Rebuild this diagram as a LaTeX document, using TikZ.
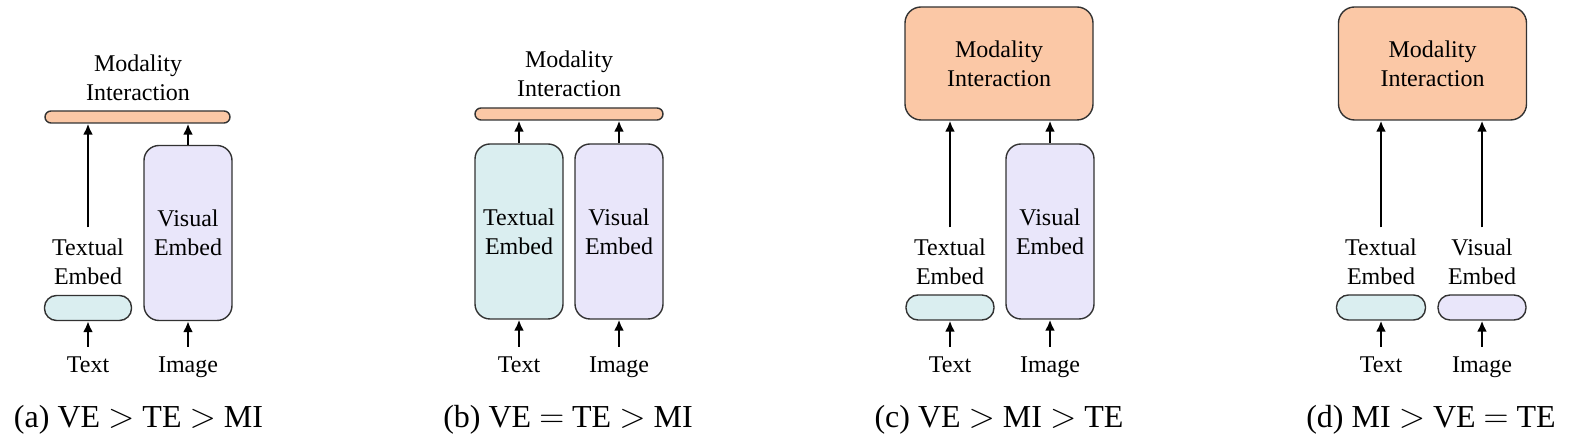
\documentclass[tikz,border=0pt]{standalone}
\usepackage{fontspec}
\setmainfont{Liberation Serif}
\usetikzlibrary{arrows.meta}
\definecolor{mipeach}{RGB}{251,200,166}
\definecolor{tecyan}{RGB}{218,238,240}
\definecolor{velilac}{RGB}{233,230,250}
\definecolor{edgegray}{RGB}{50,50,50}
\tikzset{
  modfig/.style={x=0.5pt,y=-0.5pt,font=\fontsize{12}{14.5}\selectfont},
  blk/.style={draw=edgegray,line width=0.7pt,inner sep=0pt,align=center},
  mibar/.style={blk,fill=mipeach,rounded corners=3pt,minimum height=6pt},
  mibox/.style={blk,fill=mipeach,rounded corners=8pt,minimum width=94pt,minimum height=56.5pt},
  tallbox/.style={blk,rounded corners=7.5pt,minimum width=44pt,minimum height=87.5pt},
  flatbox/.style={blk,rounded corners=6pt,minimum width=44pt,minimum height=12.5pt},
  lbl/.style={align=center,inner sep=0pt},
  flow/.style={-{Latex[length=5.5pt,width=5pt]},line width=1.1pt},
  subcap/.style={font=\fontsize{16}{19}\selectfont,inner sep=0pt,anchor=base}
}

\begin{document}
\begin{tikzpicture}[modfig]
    \useasboundingbox (0,0) rectangle (1596,442);
    % inputs
    \foreach \x/\p in {88/a,519/b,950/c,1381/d} \node[lbl,anchor=base] (text\p) at (\x,373) {Text};
    \foreach \x/\p in {188/a,619/b,1050/c,1482/d} \node[lbl,anchor=base] (image\p) at (\x,373) {Image};
    % (a)
    \node[mibar,minimum width=92.5pt] (mia) at (137.5,117) {};
    \node[lbl,anchor=south] (mlaba) at (138,101) {Modality\\Interaction};
    \node[flatbox,fill=tecyan,minimum width=43.5pt] (tea) at (88,308) {};
    \node[lbl,anchor=south] (tlaba) at (88,285) {Textual\\Embed};
    \node[tallbox,fill=velilac] (vea) at (188,233) {Visual\\Embed};
    \draw[flow] ([yshift=5pt]texta.north) -- (texta.north |- tea.south);
    \draw[flow] ([yshift=5pt]imagea.north) -- (imagea.north |- vea.south);
    \draw[flow] ([yshift=5.5pt]tlaba.north) -- (tlaba.north |- mia.south);
    \draw[flow] (vea.north) -- (vea.north |- mia.south);
    % (b)
    \node[mibar,minimum width=94pt] (mib) at (569,114) {};
    \node[lbl,anchor=south] (mlabb) at (569,97) {Modality\\Interaction};
    \node[tallbox,fill=tecyan] (teb) at (519,231.5) {Textual\\Embed};
    \node[tallbox,fill=velilac] (veb) at (619,231.5) {Visual\\Embed};
    \draw[flow] ([yshift=5pt]textb.north) -- (textb.north |- teb.south);
    \draw[flow] ([yshift=5pt]imageb.north) -- (imageb.north |- veb.south);
    \draw[flow] (teb.north) -- (teb.north |- mib.south);
    \draw[flow] (veb.north) -- (veb.north |- mib.south);
    % (c)
    \node[mibox] (mic) at (999,63.5) {Modality\\Interaction};
    \node[flatbox,fill=tecyan] (tec) at (950,307.5) {};
    \node[lbl,anchor=south] (tlabc) at (950,285) {Textual\\Embed};
    \node[tallbox,fill=velilac] (vec) at (1050,231.5) {Visual\\Embed};
    \draw[flow] ([yshift=5pt]textc.north) -- (textc.north |- tec.south);
    \draw[flow] ([yshift=5pt]imagec.north) -- (imagec.north |- vec.south);
    \draw[flow] ([yshift=5.5pt]tlabc.north) -- (tlabc.north |- mic.south);
    \draw[flow] (vec.north) -- (vec.north |- mic.south);
    % (d)
    \node[mibox] (mid) at (1432.5,63.5) {Modality\\Interaction};
    \node[flatbox,fill=tecyan,minimum width=44.5pt] (ted) at (1381,307.5) {};
    \node[flatbox,fill=velilac] (ved) at (1482,307.5) {};
    \node[lbl,anchor=south] (tlabd) at (1381,285) {Textual\\Embed};
    \node[lbl,anchor=south] (vlabd) at (1482,285) {Visual\\Embed};
    \draw[flow] ([yshift=5pt]textd.north) -- (textd.north |- ted.south);
    \draw[flow] ([yshift=5pt]imaged.north) -- (imaged.north |- ved.south);
    \draw[flow] ([yshift=5.5pt]tlabd.north) -- (tlabd.north |- mid.south);
    \draw[flow] ([yshift=5.5pt]vlabd.north) -- (vlabd.north |- mid.south);
    % captions
    \node[subcap] (capa) at (138.5,428) {(a) VE $>$ TE $>$ MI};
    \node[subcap] (capb) at (568,428) {(b) VE $=$ TE $>$ MI};
    \node[subcap] (capc) at (999,428) {(c) VE $>$ MI $>$ TE};
    \node[subcap] (capd) at (1431,428) {(d) MI $>$ VE $=$ TE};
\end{tikzpicture}
\end{document}
